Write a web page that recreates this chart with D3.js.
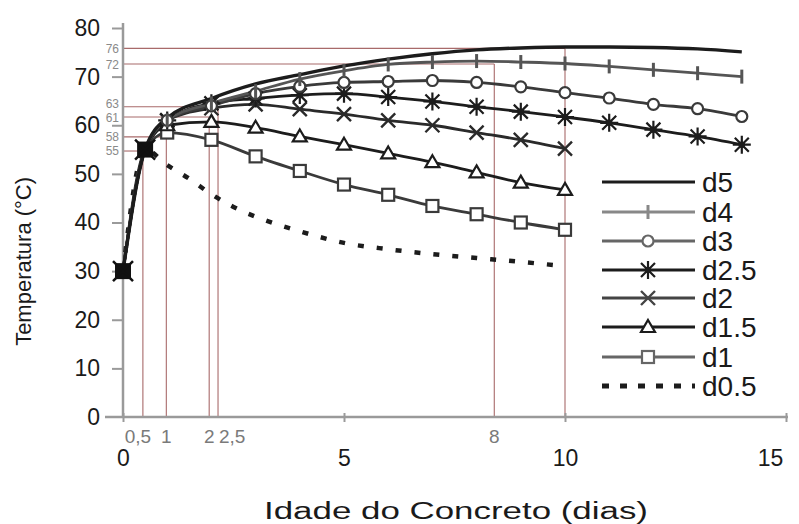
<!DOCTYPE html>
<html><head><meta charset="utf-8">
<script src="https://d3js.org/d3.v7.min.js"></script>
<style>body{margin:0;background:#fff} svg{display:block;font-family:Arial,"Liberation Sans",sans-serif}</style>
</head><body><svg id="c" width="799" height="524"></svg>
<script>
// ---- data ----
const days = [0,0.5,1,2,3,4,5,6,7,8,9,10,11,12,13,14];
const tD5  = [30,55,61.5,65.5,68.5,70.4,72.2,73.6,74.7,75.5,75.9,76.1,76.1,76,75.7,75.1];
const tD4  = [30,55,61,64.5,67,69.5,71.2,72.5,73,73.2,73,72.7,72.1,71.4,70.7,70];
const tD3  = [30,55,61,64,66.5,68,68.8,69,69.2,68.8,67.9,66.7,65.6,64.3,63.4,61.8];
const tD25 = [30,55,61,64.5,65.5,66.2,66.5,65.8,64.9,63.8,62.8,61.7,60.5,59.1,57.7,56];
const tD2  = [30,55,61,63.5,64.3,63.3,62.3,61,60,58.5,57,55.2];
const tD15 = [30,55,60,60.7,59.5,57.7,56,54.2,52.4,50.3,48.2,46.7];
const tD1  = [30,55,58.5,57,53.6,50.6,47.8,45.7,43.4,41.7,40,38.5];
const d05Days = [0,0.5,1,1.5,2,2.5,3,4,5,6,7,8,9,9.8];
const tD05 = [30,55,51.8,49,45.8,43.2,41.2,38.2,35.8,34.5,33.5,32.7,31.9,31.2];
const seriesNames = ["d5","d4","d3","d2.5","d2","d1.5","d1","d0.5"];
const xTicks = [0,5,10,15];
const yTicks = [0,10,20,30,40,50,60,70,80];
// reference guides (label, position)
const guideXLabels = ["0,5","1","2","2,5","8","10"];
const guideXPos    = [0.45,0.98,1.95,2.15,8.4,10];
const guideYLabels = ["55","58","61","63","72","76"];
const guideYPos    = [54.7,57.6,61.7,63.8,72.6,75.8];

// ---- chart ----
const FONT = "Arial,'Liberation Sans',sans-serif";
const svg = d3.select("#c");
const x = d3.scaleLinear().domain([0,15]).range([123,786]);
const y = d3.scaleLinear().domain([0,80]).range([417,28]);

// guides
const guideCol = "#a86a6a";
const gg = svg.append("g").attr("stroke",guideCol).attr("stroke-width",1.1);
guideXPos.forEach((gx,i)=>{
  gg.append("line").attr("x1",x(gx)).attr("x2",x(gx)).attr("y1",y(0)).attr("y2",y(guideYPos[i]));
  gg.append("line").attr("x1",x(0)).attr("x2",x(gx)).attr("y1",y(guideYPos[i])).attr("y2",y(guideYPos[i]));
});

// axes
const axCol = "#9a9a9a";
const yAxis = svg.append("g").attr("transform",`translate(${x(0)},0)`)
  .call(d3.axisLeft(y).tickValues(yTicks).tickSize(11).tickPadding(12));
yAxis.select(".domain").attr("stroke",axCol).attr("stroke-width",2.5).attr("d",`M0,${y(80)-5}V${y(0)}`);
yAxis.selectAll(".tick line").attr("stroke",axCol).attr("stroke-width",2);
yAxis.selectAll(".tick text").attr("font-size",23).attr("fill","#1a1a1a").attr("font-family",FONT);
yAxis.selectAll(".tick").filter(d=>d===0).select("line").remove();

const xAxis = svg.append("g").attr("transform",`translate(0,${y(0)})`)
  .call(d3.axisBottom(x).tickValues(xTicks).tickSize(5).tickPadding(28));
xAxis.select(".domain").attr("stroke",axCol).attr("stroke-width",2.5).attr("d",`M105,0H${x(15)+2}`);
xAxis.selectAll(".tick line").attr("stroke",axCol).attr("stroke-width",2).attr("y1",-4);
xAxis.selectAll(".tick text").attr("font-size",23).attr("fill","#1a1a1a").attr("font-family",FONT);
xAxis.selectAll(".tick").filter(d=>d===15).select("text").attr("dx",-16);

// guide labels
guideXLabels.forEach((t,i)=>{
  if (t==="10") return;
  let anchor="middle", dx=0;
  if (t==="0,5") dx=-5;
  if (t==="2,5") {anchor="start"; dx=1;}
  svg.append("text").attr("x",x(guideXPos[i])+dx).attr("y",y(0)+26).attr("text-anchor",anchor)
    .attr("font-size",19).attr("fill","#7a7a7a").text(t);
});
const yLabelShift = {"63":-3,"61":1,"72":1};
guideYLabels.forEach((t,i)=>{
  svg.append("text").attr("x",119).attr("y",y(guideYPos[i])+(yLabelShift[t]||0)).attr("dy","0.35em").attr("text-anchor","end")
    .attr("font-size",12).attr("fill","#8a8a8a").text(t);
});

// axis titles
svg.append("text").attr("transform",`translate(31,${y(32)}) rotate(-90)`).attr("text-anchor","middle")
  .attr("font-size",22).attr("fill","#1a1a1a").text("Temperatura (°C)");
svg.append("text").attr("x",264).attr("y",519)
  .attr("font-size",23).attr("fill","#1a1a1a").attr("textLength",384).attr("lengthAdjust","spacingAndGlyphs")
  .text("Idade do Concreto (dias)");

// markers
function marker(sel, type, col){
  if (type==="bar") sel.append("line").attr("y1",-7).attr("y2",7).attr("stroke",col).attr("stroke-width",3);
  else if (type==="circle") sel.append("circle").attr("r",5.5).attr("fill","#fff").attr("stroke",col).attr("stroke-width",2.2);
  else if (type==="square") sel.append("rect").attr("x",-6).attr("y",-6).attr("width",12).attr("height",12).attr("fill","#fff").attr("stroke",col).attr("stroke-width",2.2);
  else if (type==="triangle") sel.append("path").attr("d","M0,-7L7,5H-7Z").attr("fill","#fff").attr("stroke",col).attr("stroke-width",2.2);
  else if (type==="x") sel.append("path").attr("d","M-7,-7L7,7M-7,7L7,-7").attr("stroke",col).attr("stroke-width",2.4);
  else if (type==="star"){
    sel.append("path").attr("d","M-9,0H9M0,-9V9M-7,-7L7,7M-7,7L7,-7").attr("stroke",col).attr("stroke-width",2.2);
    sel.append("circle").attr("r",3.2).attr("fill",col);
  }
}

const series = [
  {name:"d5",  xs:days, ys:tD5,  col:"#1c1c1c", lc:"#1c1c1c", w:3.4, m:null},
  {name:"d4",  xs:days, ys:tD4,  col:"#555",    lc:"#888",    w:2.8, m:"bar"},
  {name:"d3",  xs:days, ys:tD3,  col:"#3a3a3a", lc:"#666",    w:2.8, m:"circle"},
  {name:"d2.5",xs:days, ys:tD25, col:"#1c1c1c", lc:"#1c1c1c", w:2.8, m:"star"},
  {name:"d2",  xs:days.slice(0,tD2.length),  ys:tD2,  col:"#2a2a2a", lc:"#444", w:2.8, m:"x"},
  {name:"d1.5",xs:days.slice(0,tD15.length), ys:tD15, col:"#1c1c1c", lc:"#1c1c1c", w:2.8, m:"triangle"},
  {name:"d1",  xs:days.slice(0,tD1.length),  ys:tD1,  col:"#3a3a3a", lc:"#666", w:2.8, m:"square"},
  {name:"d0.5",xs:d05Days, ys:tD05, col:"#1c1c1c", lc:"#1c1c1c", w:4.5, m:null, dash:"6,13"}
];
const line = d3.line().x(d=>x(d[0])).y(d=>y(d[1])).curve(d3.curveMonotoneX);
const plot = svg.append("g");
series.slice().reverse().forEach(s=>{
  const pts = s.xs.map((v,i)=>[v,s.ys[i]]);
  plot.append("path").datum(pts).attr("d",line).attr("fill","none").attr("stroke",s.col)
    .attr("stroke-width",s.w).attr("stroke-dasharray",s.dash||null).attr("stroke-linejoin","round");
});
series.slice().reverse().forEach(s=>{
  if (!s.m) return;
  s.xs.forEach((v,i)=>{
    if (v<1) return;
    const gm = plot.append("g").attr("transform",`translate(${x(v)},${y(s.ys[i])})`);
    marker(gm, s.m, s.col);
  });
});
// shared early points (overlapping markers -> dark blobs)
[[0,30],[0.5,55]].forEach(p=>{
  plot.append("rect").attr("x",x(p[0])-8).attr("y",y(p[1])-8).attr("width",16).attr("height",16).attr("fill","#111");
  plot.append("path").attr("transform",`translate(${x(p[0])},${y(p[1])})`)
    .attr("d","M-10,-10L10,10M-10,10L10,-10").attr("stroke","#111").attr("stroke-width",2.5);
});

// legend
const lg = svg.append("g");
const rowY = [182,212,241,270,298,327,357,386];
series.forEach((s,i)=>{
  const ry = rowY[i];
  lg.append("line").attr("x1",602).attr("x2",695).attr("y1",ry).attr("y2",ry).attr("stroke",s.lc)
    .attr("stroke-width",s.dash?5:3.2).attr("stroke-dasharray",s.dash?"7,11":null);
  if (s.m){ const gm = lg.append("g").attr("transform",`translate(648,${ry})`); marker(gm,s.m,s.lc); }
  lg.append("text").attr("x",702).attr("y",ry).attr("dy","0.36em").attr("font-size",28).attr("fill","#1a1a1a").text(s.name);
});
</script></body></html>
